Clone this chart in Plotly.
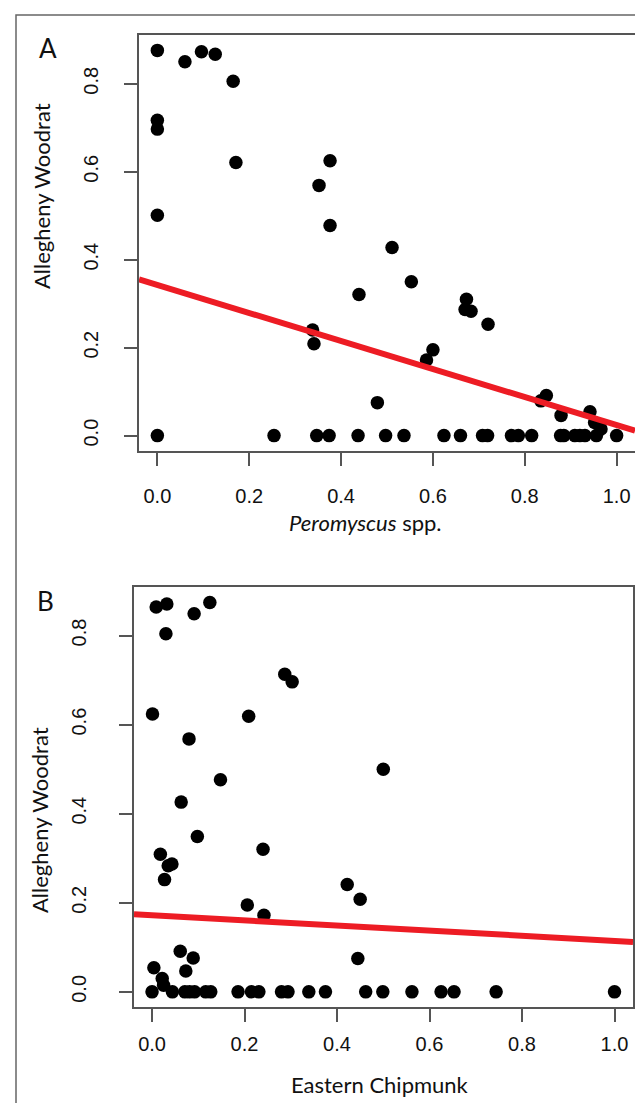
import plotly.graph_objects as go

# ---------------- data ----------------
# Panel A: Peromyscus spp. (x) vs Allegheny Woodrat (y)
pero_x = [0.000, 0.060, 0.096, 0.126, 0.165, 0.000, 0.000, 0.171, 0.376, 0.352,
          0.000, 0.376, 0.511, 0.553, 0.439, 0.673, 0.670, 0.683, 0.720, 0.338,
          0.341, 0.600, 0.586, 0.479, 0.847, 0.835, 0.879, 0.942, 0.952, 0.966,
          0.000, 0.254, 0.347, 0.374, 0.437, 0.497, 0.537, 0.624, 0.660, 0.708,
          0.719, 0.771, 0.786, 0.815, 0.878, 0.885, 0.909, 0.920, 0.931, 0.956, 1.000]
woodrat_a = [0.876, 0.850, 0.873, 0.867, 0.806, 0.717, 0.697, 0.621, 0.625, 0.569,
             0.501, 0.478, 0.428, 0.350, 0.321, 0.310, 0.287, 0.283, 0.253, 0.240,
             0.209, 0.195, 0.172, 0.075, 0.091, 0.079, 0.046, 0.054, 0.030, 0.015,
             0, 0, 0, 0, 0, 0, 0, 0, 0, 0,
             0, 0, 0, 0, 0, 0, 0, 0, 0, 0, 0]

# Panel B: Eastern Chipmunk (x) vs Allegheny Woodrat (y)
chip_x = [0.009, 0.032, 0.030, 0.091, 0.125, 0.287, 0.303, 0.001, 0.209, 0.080,
          0.500, 0.148, 0.063, 0.098, 0.240, 0.018, 0.035, 0.043, 0.027, 0.422,
          0.450, 0.206, 0.242, 0.061, 0.089, 0.445, 0.004, 0.073, 0.022, 0.025,
          0.000, 0.044, 0.071, 0.081, 0.092, 0.116, 0.127, 0.186, 0.215, 0.231,
          0.280, 0.294, 0.339, 0.375, 0.462, 0.499, 0.562, 0.625, 0.653, 0.744, 1.000]
woodrat_b = [0.864, 0.871, 0.804, 0.849, 0.874, 0.713, 0.696, 0.624, 0.619, 0.568,
             0.500, 0.476, 0.426, 0.349, 0.320, 0.309, 0.283, 0.287, 0.252, 0.241,
             0.208, 0.195, 0.172, 0.091, 0.076, 0.075, 0.054, 0.047, 0.030, 0.015,
             0, 0, 0, 0, 0, 0, 0, 0, 0, 0,
             0, 0, 0, 0, 0, 0, 0, 0, 0, 0, 0]

# fitted regression lines (intercept, slope)
fit_a = (0.3425, -0.3185)
fit_b = (0.172, -0.0575)

tick_vals = [0.0, 0.2, 0.4, 0.6, 0.8, 1.0]
tick_text = ["0.0", "0.2", "0.4", "0.6", "0.8", "1.0"]
ytick_vals = [0.0, 0.2, 0.4, 0.6, 0.8]
ytick_text = ["0.0", "0.2", "0.4", "0.6", "0.8"]

x_title_a = "<i>Peromyscus</i> spp."
x_title_b = "Eastern Chipmunk"
y_title = "Allegheny Woodrat"
panel_labels = ["A", "B"]

# ---------------- layout helpers ----------------
W, H = 643, 1103
def px(x):
    return x / W
def py(y):
    return 1 - y / H

RED = "#ED1C24"
AX = "#555555"
TICKFONT = dict(family="Liberation Sans, Arial, sans-serif", size=20, color="#111")
TITLEFONT = dict(family="Lato, Open Sans, sans-serif", size=22, color="#111")

fig = go.Figure()

xr_a = [-0.04, 1.04]
xr_b = [-0.039, 1.04]

fig.add_trace(go.Scatter(x=pero_x, y=woodrat_a, mode="markers",
                         marker=dict(color="black", size=13.5, line=dict(width=0)),
                         xaxis="x", yaxis="y", showlegend=False))
fig.add_trace(go.Scatter(x=xr_a, y=[fit_a[0] + fit_a[1] * v for v in xr_a], mode="lines",
                         line=dict(color=RED, width=6), xaxis="x", yaxis="y", showlegend=False))
fig.add_trace(go.Scatter(x=chip_x, y=woodrat_b, mode="markers",
                         marker=dict(color="black", size=13.5, line=dict(width=0)),
                         xaxis="x2", yaxis="y2", showlegend=False))
fig.add_trace(go.Scatter(x=xr_b, y=[fit_b[0] + fit_b[1] * v for v in xr_b], mode="lines",
                         line=dict(color=RED, width=6), xaxis="x2", yaxis="y2", showlegend=False))

common = dict(showline=True, mirror=True, linecolor=AX, linewidth=1.5,
              ticks="outside", ticklen=13, tickwidth=1.5, tickcolor=AX,
              showgrid=False, zeroline=False, tickfont=TICKFONT)

fig.update_layout(
    width=W, height=H,
    margin=dict(l=0, r=0, t=0, b=0),
    paper_bgcolor="white", plot_bgcolor="white",
    xaxis=dict(domain=[px(131), px(627)], range=xr_a, anchor="y",
               tickvals=tick_vals, ticktext=tick_text, ticklabelstandoff=13, **common),
    yaxis=dict(domain=[py(443), py(27)], range=[-0.035, 0.911], anchor="x",
               tickvals=ytick_vals, ticktext=ytick_text, tickangle=-90,
               ticklabelstandoff=18, **common),
    xaxis2=dict(domain=[px(126), px(625)], range=xr_b, anchor="y2",
                tickvals=tick_vals, ticktext=tick_text, ticklabelstandoff=5, **common),
    yaxis2=dict(domain=[py(999), py(579)], range=[-0.034, 0.909], anchor="x2",
                tickvals=ytick_vals, ticktext=ytick_text, tickangle=-90,
                ticklabelstandoff=25, **common),
)

# outer frame (extends past right/bottom edges)
fig.add_shape(type="rect", xref="paper", yref="paper",
              x0=px(8), x1=px(660), y0=py(1120), y1=py(7),
              line=dict(color="#666", width=1.5), fillcolor="rgba(0,0,0,0)", layer="below")

ann = []
ann.append(dict(text=x_title_a, x=px(357), y=py(514), xref="paper", yref="paper",
                showarrow=False, font=TITLEFONT, xanchor="center", yanchor="middle"))
ann.append(dict(text=x_title_b, x=px(372), y=py(1076), xref="paper", yref="paper",
                showarrow=False, font=TITLEFONT, xanchor="center", yanchor="middle"))
ann.append(dict(text=y_title, x=px(33), y=py(188), xref="paper", yref="paper",
                showarrow=False, font=TITLEFONT, textangle=-90, xanchor="center", yanchor="middle"))
ann.append(dict(text=y_title, x=px(31), y=py(812), xref="paper", yref="paper",
                showarrow=False, font=TITLEFONT, textangle=-90, xanchor="center", yanchor="middle"))
ann.append(dict(text=panel_labels[0], x=px(40), y=py(40), xref="paper", yref="paper",
                showarrow=False, font=dict(family="Lato, sans-serif", size=26, color="#111"),
                xanchor="center", yanchor="middle"))
ann.append(dict(text=panel_labels[1], x=px(37), y=py(593), xref="paper", yref="paper",
                showarrow=False, font=dict(family="Lato, sans-serif", size=26, color="#111"),
                xanchor="center", yanchor="middle"))
fig.update_layout(annotations=ann)

fig.write_html("out.html")
